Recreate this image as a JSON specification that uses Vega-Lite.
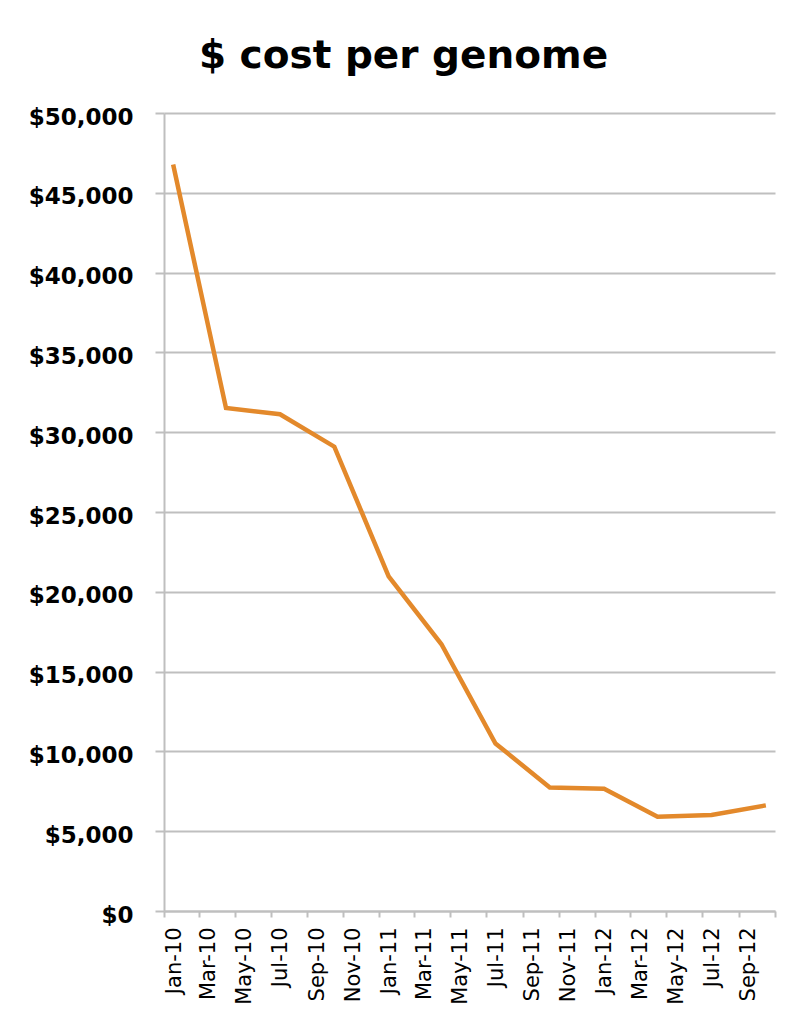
{
  "$schema": "https://vega.github.io/schema/vega-lite/v6.json",
  "autosize": {"type": "none"},
  "padding": {"left": 164, "top": 113, "right": 22, "bottom": 101},
  "width": 611,
  "height": 798,
  "background": "white",
  "title": {
    "text": "$ cost per genome",
    "font": "DejaVu Sans",
    "fontSize": 39,
    "fontWeight": "bold",
    "color": "black",
    "anchor": "middle",
    "frame": "group",
    "dx": -66,
    "dy": 38,
    "baseline": "alphabetic",
    "offset": 37
  },
  "config": {"view": {"stroke": null}},
  "data": {
    "values": [
      {"date": "2010-01-01", "cost": 46774},
      {"date": "2010-04-01", "cost": 31512},
      {"date": "2010-07-01", "cost": 31125},
      {"date": "2010-10-01", "cost": 29092},
      {"date": "2011-01-01", "cost": 20963},
      {"date": "2011-04-01", "cost": 16712},
      {"date": "2011-07-01", "cost": 10497},
      {"date": "2011-10-01", "cost": 7743},
      {"date": "2012-01-01", "cost": 7666},
      {"date": "2012-04-01", "cost": 5901},
      {"date": "2012-07-01", "cost": 6010},
      {"date": "2012-10-01", "cost": 6618}
    ]
  },
  "mark": {"type": "line", "color": "#E3892B", "strokeWidth": 4.5},
  "encoding": {
    "x": {
      "field": "date",
      "type": "temporal",
      "timeUnit": "utcyearmonth",
      "bandPosition": 0.5,
      "scale": {
        "type": "utc",
        "domain": [
          {"year": 2010, "month": 1, "date": 1, "utc": true},
          {"year": 2012, "month": 11, "date": 1, "utc": true}
        ]
      },
      "axis": {
        "title": null,
        "grid": false,
        "values": [
          {"year": 2010, "month": 1, "date": 1, "utc": true},
          {"year": 2010, "month": 3, "date": 1, "utc": true},
          {"year": 2010, "month": 5, "date": 1, "utc": true},
          {"year": 2010, "month": 7, "date": 1, "utc": true},
          {"year": 2010, "month": 9, "date": 1, "utc": true},
          {"year": 2010, "month": 11, "date": 1, "utc": true},
          {"year": 2011, "month": 1, "date": 1, "utc": true},
          {"year": 2011, "month": 3, "date": 1, "utc": true},
          {"year": 2011, "month": 5, "date": 1, "utc": true},
          {"year": 2011, "month": 7, "date": 1, "utc": true},
          {"year": 2011, "month": 9, "date": 1, "utc": true},
          {"year": 2011, "month": 11, "date": 1, "utc": true},
          {"year": 2012, "month": 1, "date": 1, "utc": true},
          {"year": 2012, "month": 3, "date": 1, "utc": true},
          {"year": 2012, "month": 5, "date": 1, "utc": true},
          {"year": 2012, "month": 7, "date": 1, "utc": true},
          {"year": 2012, "month": 9, "date": 1, "utc": true},
          {"year": 2012, "month": 11, "date": 1, "utc": true}
        ],
        "labelExpr": "datum.index == 1 ? '' : utcFormat(datum.value, '%b-%y')",
        "labelAngle": -90,
        "labelAlign": "right",
        "labelBaseline": "middle",
        "labelFont": "DejaVu Sans",
        "labelFontSize": 21,
        "labelColor": "black",
        "labelOffset": 10,
        "labelPadding": 10,
        "labelFlush": false,
        "labelOverlap": false,
        "labelBound": false,
        "tickSize": 6,
        "tickColor": "#BFBFBF",
        "tickWidth": 2,
        "domainColor": "#BFBFBF",
        "domainWidth": 2
      }
    },
    "y": {
      "field": "cost",
      "type": "quantitative",
      "scale": {"domain": [0, 50000], "nice": false},
      "axis": {
        "title": null,
        "values": [0, 5000, 10000, 15000, 20000, 25000, 30000, 35000, 40000, 45000, 50000],
        "format": "$,.0f",
        "labelFont": "DejaVu Sans",
        "labelFontSize": 23,
        "labelFontWeight": "bold",
        "labelColor": "black",
        "labelPadding": 22,
        "labelOffset": 4,
        "tickSize": 9,
        "tickColor": "#BFBFBF",
        "tickWidth": 2,
        "domainColor": "#BFBFBF",
        "domainWidth": 2,
        "grid": true,
        "gridColor": "#BFBFBF",
        "gridWidth": 2
      }
    }
  }
}
